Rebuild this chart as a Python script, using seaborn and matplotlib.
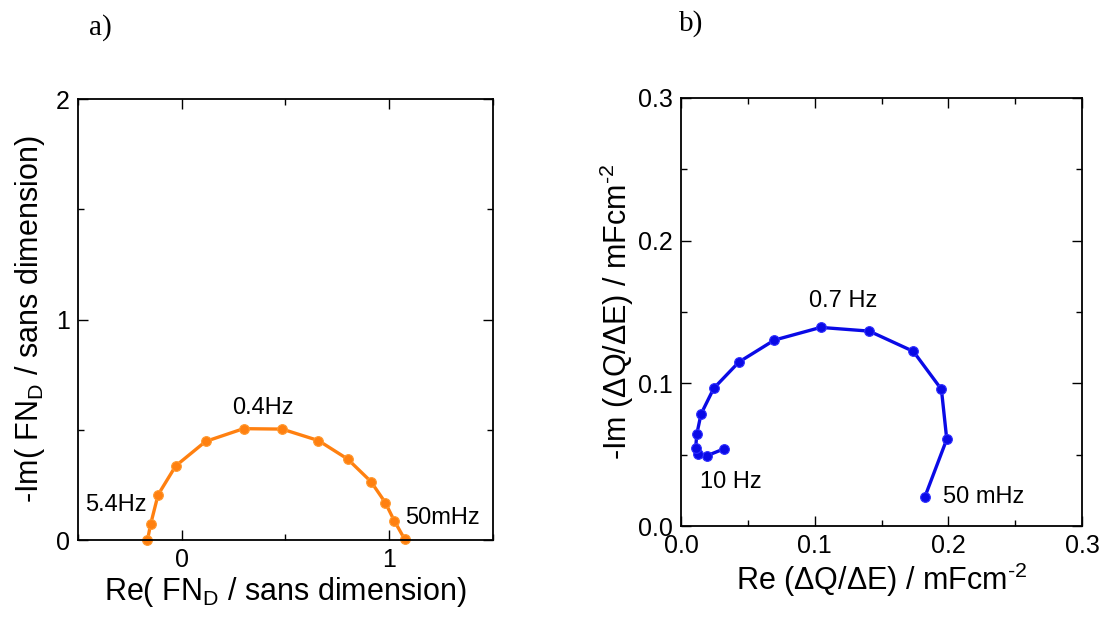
import seaborn as sns
import matplotlib.pyplot as plt
from matplotlib.ticker import MultipleLocator

# panel a) - normalised diffusion impedance, 5.4Hz -> 50mHz
re_fnd = [-0.165, -0.150, -0.114, -0.029, 0.115, 0.298, 0.484, 0.659, 0.800, 0.912, 0.981, 1.024, 1.075]
im_fnd = [0.0, 0.071, 0.205, 0.336, 0.447, 0.505, 0.503, 0.451, 0.367, 0.265, 0.170, 0.088, 0.003]

# panel b) - capacitance plot, 10Hz -> 50mHz
re_cap = [0.0323, 0.0197, 0.0130, 0.0110, 0.0118, 0.0150, 0.0245, 0.0433, 0.0698,
          0.1045, 0.1408, 0.1738, 0.1948, 0.1988, 0.1823]
im_cap = [0.0541, 0.0494, 0.0503, 0.0548, 0.0643, 0.0785, 0.0965, 0.1149, 0.1303,
          0.1392, 0.1366, 0.1224, 0.0958, 0.0608, 0.0201]

sns.set_style("ticks")
plt.rcParams['font.family'] = ['Liberation Sans', 'DejaVu Sans']
plt.rcParams['mathtext.fontset'] = 'custom'
plt.rcParams['mathtext.rm'] = 'Liberation Sans'
plt.rcParams['mathtext.it'] = 'Liberation Sans:italic'
plt.rcParams['text.color'] = 'black'
plt.rcParams['axes.labelcolor'] = 'black'
plt.rcParams['xtick.color'] = 'black'
plt.rcParams['ytick.color'] = 'black'

fig = plt.figure(figsize=(11.03, 6.31), dpi=100)
ax1 = fig.add_axes([0.0707, 0.1442, 0.3762, 0.6989])
ax2 = fig.add_axes([0.6174, 0.1664, 0.3636, 0.6783])


def style_axis(ax):
    ax.tick_params(which='both', direction='in', top=True, right=True,
                   labelsize=18, width=1, pad=6)
    ax.tick_params(which='major', length=7)
    ax.tick_params(which='minor', length=4)
    for s in ax.spines.values():
        s.set_linewidth(1.3)
        s.set_color('black')


# a)
sns.lineplot(x=re_fnd, y=im_fnd, sort=False, ax=ax1, color='#ff8010', lw=2.4,
             marker='o', markersize=7, markeredgecolor='#ff9a30', markeredgewidth=0.8,
             clip_on=False)
ax1.set_xlim(-0.5, 1.5)
ax1.set_ylim(0, 2)
ax1.xaxis.set_major_locator(MultipleLocator(1))
ax1.xaxis.set_minor_locator(MultipleLocator(0.5))
ax1.yaxis.set_major_locator(MultipleLocator(1))
ax1.yaxis.set_minor_locator(MultipleLocator(0.5))
style_axis(ax1)
ax1.set_xlabel('Re( FN$_{\\mathregular{D}}$ / sans dimension)', fontsize=22, labelpad=2)
ax1.set_ylabel('-Im( FN$_{\\mathregular{D}}$ / sans dimension)', fontsize=22, labelpad=6)
ax1.text(0.39, 0.60, '0.4Hz', fontsize=17, ha='center', va='center')
ax1.text(-0.317, 0.16, '5.4Hz', fontsize=17, ha='center', va='center')
ax1.text(1.255, 0.10, '50mHz', fontsize=17, ha='center', va='center')

# b)
sns.lineplot(x=re_cap, y=im_cap, sort=False, ax=ax2, color='#0a0ae6', lw=2.4,
             marker='o', markersize=7, markeredgecolor='#3030ff', markeredgewidth=0.8)
ax2.set_xlim(0, 0.3)
ax2.set_ylim(0, 0.3)
ax2.xaxis.set_major_locator(MultipleLocator(0.1))
ax2.xaxis.set_minor_locator(MultipleLocator(0.05))
ax2.yaxis.set_major_locator(MultipleLocator(0.1))
ax2.yaxis.set_minor_locator(MultipleLocator(0.05))
style_axis(ax2)
ax2.set_xlabel('Re (ΔQ/ΔE) / mFcm$^{\\text{-2}}$', fontsize=22, labelpad=2)
ax2.set_ylabel('-Im (ΔQ/ΔE) / mFcm$^{\\text{-2}}$', fontsize=22, labelpad=1)
ax2.text(0.121, 0.158, '0.7 Hz', fontsize=17, ha='center', va='center')
ax2.text(0.037, 0.031, '10 Hz', fontsize=17, ha='center', va='center')
ax2.text(0.2265, 0.020, '50 mHz', fontsize=17, ha='center', va='center')

fig.text(0.0906, 0.957, 'a)', fontsize=21, family='Liberation Serif', ha='center', va='center')
fig.text(0.6265, 0.962, 'b)', fontsize=21, family='Liberation Serif', ha='center', va='center')

fig.savefig('out.png', dpi=100)
